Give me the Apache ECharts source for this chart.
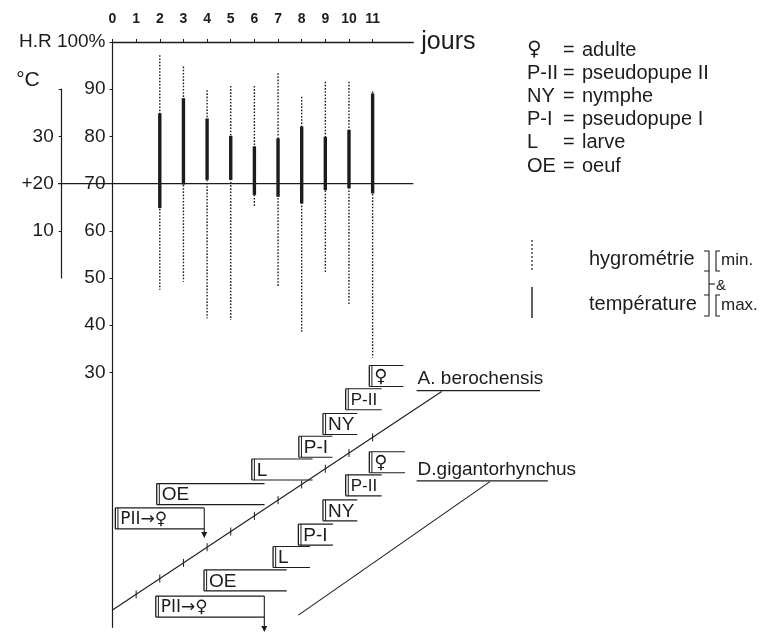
<!DOCTYPE html>
<html>
<head>
<meta charset="utf-8">
<script src="https://cdn.jsdelivr.net/npm/echarts@6.0.0/dist/echarts.min.js"></script>
<style>
html, body { margin: 0; padding: 0; background: #fff; }
#chart { width: 762px; height: 633px; }
</style>
</head>
<body>
<div id="chart"></div>
<script>
// jours de relevé
const days = [2, 3, 4, 5, 6, 7, 8, 9, 10, 11]
// hygrométrie relative (%) min / max
const hrMin = [47.5, 49.2, 41.5, 41.1, 65.1, 48.2, 38.6, 51.0, 44.3, 33.1]
const hrMax = [97.2, 94.8, 89.8, 90.7, 90.7, 93.4, 88.4, 91.6, 91.6, 89.5]
// température (°C) min / max
const tMin = [14.8, 19.8, 20.8, 20.8, 17.6, 17.2, 15.8, 18.6, 19.0, 17.9]
const tMax = [34.9, 38.1, 33.8, 30.1, 27.9, 29.6, 32.1, 29.9, 31.4, 39.1]

const dayTicks = [0, 1, 2, 3, 4, 5, 6, 7, 8, 9, 10, 11]
const hrTicks = [30, 40, 50, 60, 70, 80, 90, 100]
const tempTicks = [10, 20, 30]
const tempTickMarks = [10, 20, 30, 40]
// ligne de référence (HR 70 % = +20 °C), en jours
const refLine = [-2.3, 70, 12.72, 70]

// stades (debut, fin en jours ; rangée dans le schéma)
const stageLabels = ['♀', 'P-II', 'NY', 'P-I', 'L', 'OE', 'PII→♀']
const aStart = [10.86, 9.86, 8.90, 7.88, 5.89, 1.87, 0.12]
const aEnd = [12.30, 11.38, 10.35, 9.30, 8.46, 6.43, 3.88]
const aRow = [10.90, 9.91, 8.86, 7.90, 6.93, 5.89, 4.86]
const dStart = [10.86, 9.86, 8.90, 7.86, 6.79, 3.87, 1.83]
const dEnd = [12.37, 11.38, 10.35, 9.32, 8.35, 7.37, 6.42]
const dRow = [7.24, 6.26, 5.20, 4.17, 3.22, 2.23, 1.12]
const arrowRow = [4.03, 0.04]

// axes de temps obliques (jour, rangée)
const aDiag = [0, 0.975, 13.92, 10.24]
const dDiag = [7.86, 0.76, 15.96, 6.42]
const diagTicks = [1, 2, 3, 4, 5, 6, 7, 8, 9, 10, 11]

const species = ['A. berochensis', 'D.gigantorhynchus']
const speciesLine = [[12.86, 18.08, 10.28], [12.86, 18.41, 6.45]]

const legendCodes = ['♀', 'P-II', 'NY', 'P-I', 'L', 'OE']
const legendNames = ['adulte', 'pseudopupe II', 'nymphe', 'pseudopupe I', 'larve', 'oeuf']

const FONT = '"Liberation Sans", "DejaVu Sans", sans-serif'
const SYM_FONT = '"DejaVu Sans", sans-serif'
const INK = '#1c1c1c'

function seg(x1, y1, x2, y2, w, dash) {
  return {
    type: 'line',
    shape: { x1: x1, y1: y1, x2: x2, y2: y2 },
    style: { stroke: INK, lineWidth: w || 1.2, lineDash: dash || null }
  }
}

function txt(x, y, s, size, align, valign) {
  const fam = s.indexOf('♀') >= 0 ? SYM_FONT : FONT
  return {
    type: 'text',
    x: x,
    y: y,
    style: {
      text: s,
      fill: INK,
      font: (size || 20) + 'px ' + fam,
      align: align || 'left',
      verticalAlign: valign || 'middle',
      textAlign: align || 'left',
      textVerticalAlign: valign || 'middle'
    }
  }
}

function rangeRender(width, dash) {
  return function(params, api) {
    const p1 = api.coord([api.value(0), api.value(2)])
    const p2 = api.coord([api.value(0), api.value(1)])
    return seg(p1[0], p1[1], p2[0], p2[1], width, dash)
  }
}

function lineRender(width) {
  return function(params, api) {
    const p1 = api.coord([api.value(0), api.value(1)])
    const p2 = api.coord([api.value(2), api.value(3)])
    return seg(p1[0], p1[1], p2[0], p2[1], width)
  }
}

function stageRender(speciesIdx) {
  return function(params, api) {
    const i = params.dataIndex
    const a = api.coord([api.value(0), api.value(2)])
    const b = api.coord([api.value(1), api.value(2)])
    const h = api.size([0, 0.445])[1]
    const top = a[1] - h
    const bot = a[1] + h
    const label = stageLabels[i]
    const children = [
      seg(a[0], top, b[0], top, 1.1),
      seg(a[0], bot, b[0], bot, 1.1),
      seg(a[0], top, a[0], bot, 1.3),
      seg(a[0] + 2.6, top, a[0] + 2.6, bot, 1),
      txt(a[0] + 5, a[1] + 1, label, label === '♀' ? 18 : (label.length > 3 ? 17 : 19))
    ]
    if (i === stageLabels.length - 1) {
      const yEnd = api.coord([api.value(1), arrowRow[speciesIdx]])[1]
      children.push(seg(b[0], top, b[0], yEnd - 4, 1.1))
      children.push({
        type: 'polygon',
        shape: { points: [[b[0] - 3, yEnd - 6], [b[0] + 3, yEnd - 6], [b[0], yEnd]] },
        style: { fill: INK }
      })
    }
    return { type: 'group', children: children }
  }
}

function diagTickRender(params, api) {
  const p0 = api.coord([aDiag[0], aDiag[1]])
  const p1 = api.coord([aDiag[2], aDiag[3]])
  const px = api.coord([api.value(0), 0])[0]
  const t = (px - p0[0]) / (p1[0] - p0[0])
  const py = p0[1] + t * (p1[1] - p0[1])
  return seg(px, py - 4, px, py + 4, 1)
}

function speciesRender(params, api) {
  const a = api.coord([api.value(0), api.value(2)])
  const b = api.coord([api.value(1), api.value(2)])
  return {
    type: 'group',
    children: [
      seg(a[0], a[1], b[0], b[1], 1.3),
      txt(a[0] + 1, a[1] - 2, species[params.dataIndex], 19, 'left', 'bottom')
    ]
  }
}

// légende à droite
const graphics = []
legendCodes.forEach((c, i) => {
  const y = 50 + i * 23.2
  graphics.push(txt(527, y, c, 20))
  graphics.push(txt(563, y, '=', 20))
  graphics.push(txt(582, y, legendNames[i], 20))
})
graphics.push(seg(532, 240, 532, 270, 1.2, [2, 2]))
graphics.push(seg(532, 287, 532, 318, 1.4))
graphics.push(txt(589, 259, 'hygrométrie', 20))
graphics.push(txt(589, 304, 'température', 20))
graphics.push({
  type: 'polyline',
  shape: { points: [[704, 251], [709, 251], [709, 271], [704, 271]] },
  style: { stroke: INK, lineWidth: 1.1, fill: null }
})
graphics.push({
  type: 'polyline',
  shape: { points: [[704, 295], [709, 295], [709, 316], [704, 316]] },
  style: { stroke: INK, lineWidth: 1.1, fill: null }
})
graphics.push(seg(709, 271, 709, 295, 1.1))
graphics.push(seg(709, 284, 715, 284, 1.1))
graphics.push({
  type: 'polyline',
  shape: { points: [[720, 251], [716, 251], [716, 271], [720, 271]] },
  style: { stroke: INK, lineWidth: 1.1, fill: null }
})
graphics.push({
  type: 'polyline',
  shape: { points: [[720, 295], [716, 295], [716, 316], [720, 316]] },
  style: { stroke: INK, lineWidth: 1.1, fill: null }
})
graphics.push(txt(716, 286, '&', 15))
graphics.push(txt(721, 260, 'min.', 17))
graphics.push(txt(721, 305, 'max.', 17))

const chart = echarts.init(document.getElementById('chart'))
chart.setOption({
  animation: false,
  backgroundColor: '#fff',
  textStyle: { fontFamily: FONT, color: INK },
  grid: [
    { left: 112.5, top: 42, width: 300.8, height: 585.3 },
    { left: 112.5, top: 89.2, width: 300.8, height: 188.8 },
    { left: 112.5, top: 350, width: 300.8, height: 283 }
  ],
  xAxis: [
    {
      type: 'value',
      gridIndex: 0,
      position: 'top',
      min: 0,
      max: 12.72,
      name: 'jours',
      nameLocation: 'end',
      nameGap: 8,
      nameTextStyle: { fontSize: 25, color: INK, fontFamily: FONT, verticalAlign: 'middle', padding: [0, 0, 6, 0] },
      axisLine: { show: true, onZero: false, lineStyle: { color: INK, width: 1.3 } },
      axisTick: { show: true, customValues: dayTicks, length: 3, lineStyle: { color: INK } },
      axisLabel: {
        customValues: dayTicks,
        margin: 16,
        fontSize: 14,
        fontWeight: 'bold',
        color: INK,
        fontFamily: FONT
      },
      splitLine: { show: false }
    },
    { type: 'value', gridIndex: 1, min: 0, max: 12.72, show: false },
    { type: 'value', gridIndex: 2, min: 0, max: 12.72, show: false }
  ],
  yAxis: [
    {
      type: 'value',
      gridIndex: 0,
      min: -24,
      max: 100,
      axisLine: { show: true, onZero: false, lineStyle: { color: INK, width: 1.2 } },
      axisTick: { show: true, customValues: hrTicks, length: 3, lineStyle: { color: INK } },
      axisLabel: {
        customValues: hrTicks,
        formatter: v => (v === 100 ? 'H.R 100%' : String(v)),
        margin: 7,
        fontSize: 19,
        color: INK,
        fontFamily: FONT,
        verticalAlign: 'middle',
        padding: [0, 0, 7, 0]
      },
      splitLine: { show: false }
    },
    {
      type: 'value',
      gridIndex: 1,
      min: 0,
      max: 40,
      offset: 50.8,
      name: '°C',
      nameLocation: 'end',
      nameGap: -2,
      nameTextStyle: {
        fontSize: 21,
        color: INK,
        fontFamily: FONT,
        align: 'right',
        verticalAlign: 'bottom',
        padding: [0, 22, 0, 0]
      },
      axisLine: { show: true, onZero: false, lineStyle: { color: INK, width: 1.2 } },
      axisTick: { show: true, customValues: tempTickMarks, length: 3, lineStyle: { color: INK } },
      axisLabel: {
        customValues: tempTicks,
        formatter: v => (v === 20 ? '+20' : String(v)),
        margin: 8,
        fontSize: 19,
        color: INK,
        fontFamily: FONT,
        verticalAlign: 'middle',
        padding: [0, 0, 11, 0]
      },
      splitLine: { show: false }
    },
    { type: 'value', gridIndex: 2, min: 0, max: 12, show: false }
  ],
  series: [
    {
      type: 'custom',
      xAxisIndex: 0,
      yAxisIndex: 0,
      data: days.map((d, i) => [d, hrMin[i], hrMax[i]]),
      encode: { x: 0, y: [1, 2] },
      renderItem: rangeRender(1.4, [1.6, 1.6])
    },
    {
      type: 'custom',
      xAxisIndex: 0,
      yAxisIndex: 0,
      data: [refLine],
      encode: { x: [0, 2], y: [1, 3] },
      renderItem: lineRender(1.4)
    },
    {
      type: 'custom',
      xAxisIndex: 1,
      yAxisIndex: 1,
      data: days.map((d, i) => [d, tMin[i], tMax[i]]),
      encode: { x: 0, y: [1, 2] },
      renderItem: rangeRender(3.4)
    },
    {
      type: 'custom',
      xAxisIndex: 2,
      yAxisIndex: 2,
      data: aStart.map((s, i) => [s, aEnd[i], aRow[i]]),
      encode: { x: [0, 1], y: 2 },
      renderItem: stageRender(0)
    },
    {
      type: 'custom',
      xAxisIndex: 2,
      yAxisIndex: 2,
      data: dStart.map((s, i) => [s, dEnd[i], dRow[i]]),
      encode: { x: [0, 1], y: 2 },
      renderItem: stageRender(1)
    },
    {
      type: 'custom',
      xAxisIndex: 2,
      yAxisIndex: 2,
      data: [aDiag, dDiag],
      encode: { x: [0, 2], y: [1, 3] },
      renderItem: lineRender(1.1)
    },
    {
      type: 'custom',
      xAxisIndex: 2,
      yAxisIndex: 2,
      data: diagTicks.map(d => [d]),
      encode: { x: 0 },
      renderItem: diagTickRender
    },
    {
      type: 'custom',
      xAxisIndex: 2,
      yAxisIndex: 2,
      data: speciesLine,
      encode: { x: [0, 1], y: 2 },
      renderItem: speciesRender
    }
  ],
  graphic: graphics
})
</script>
</body>
</html>
